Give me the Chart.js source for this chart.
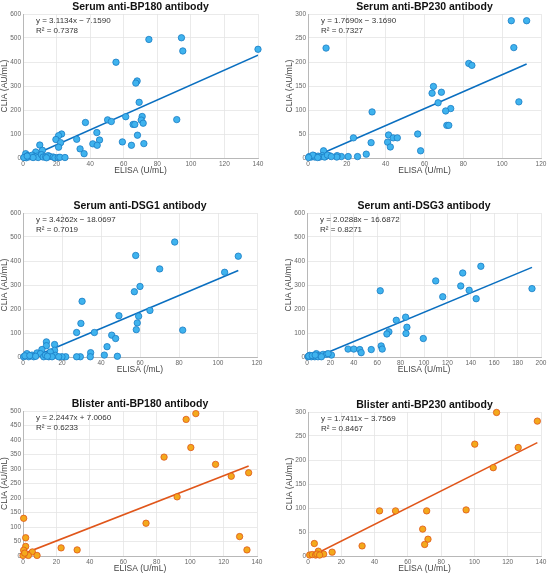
<!DOCTYPE html>
<html>
<head>
<meta charset="utf-8">
<title>CLIA vs ELISA</title>
<script src="https://cdn.jsdelivr.net/npm/chart.js@4.4.1/dist/chart.umd.min.js"></script>
<style>
  body { margin: 0; background: #fff; width: 550px; height: 575px; overflow: hidden; }
  .panel { position: absolute; }
</style>
</head>
<body>
<div class="panel" style="left:0;top:0;width:285px;height:190px"><canvas id="c1"></canvas></div>
<div class="panel" style="left:285px;top:0;width:265px;height:190px"><canvas id="c2"></canvas></div>
<div class="panel" style="left:0;top:190px;width:285px;height:195px"><canvas id="c3"></canvas></div>
<div class="panel" style="left:285px;top:190px;width:265px;height:195px"><canvas id="c4"></canvas></div>
<div class="panel" style="left:0;top:385px;width:285px;height:190px"><canvas id="c5"></canvas></div>
<div class="panel" style="left:285px;top:385px;width:265px;height:190px"><canvas id="c6"></canvas></div>
<script>
// Serum anti-BP180 (ELISA U/mL, CLIA AU/mL)
const serumBP180X = [140, 94.4, 95.2, 75, 55.4, 68, 67.2, 69.2, 91.6, 71, 70.4, 71.6, 65.6, 66.6, 61.2, 50.4, 52.6, 37.2, 68.2, 72, 59.2, 64.6, 44, 45.6, 41.6, 44.2, 32, 34, 36.4, 23, 21.2, 19.6, 22.4, 21.2, 10, 11.6, 7.6,
  1.6, 3, 1, 4, 5.5, 7, 8.5, 9, 11, 12, 13.5, 15, 16, 18, 19, 21, 22, 25, 2, 6, 0.5, 2.5, 14];
const serumBP180Y = [453, 501, 446, 494, 399, 321, 312, 232, 160, 173, 158, 145, 140, 140, 172, 159, 152, 148, 95, 60, 67, 53, 106, 75, 59, 53, 78, 38, 18, 100, 93, 77, 64, 45, 54, 32, 25,
  18, 10, 3, 5, 12, 5, 8, 2, 14, 4, 5, 10, 6, 4, 1, 2, 3, 2, 1, 2, 2, 8, 1];

// Serum anti-BP230
const serumBP230X = [104.7, 112.6, 106, 9.3, 82.8, 84.4, 64.6, 63.9, 68.7, 67, 108.6, 73.5, 70.9, 33, 71.5, 72.5, 56.5, 41.5, 43.9, 46, 23.4, 41, 42.4, 32.5, 58, 30, 8,
  25.5, 20.7, 17.2, 15, 14.8, 11, 9, 7.4, 5.2, 3, 1.7, 0.7, 3.5, 6, 8.5, 10, 2.5, 12, 5, 0.3];
const serumBP230Y = [286, 286, 230, 229, 197, 193, 149, 135, 137, 115, 117, 103, 98, 96, 68, 68, 50, 48, 42, 42, 42, 33, 23, 32, 15, 8, 15,
  3, 3, 3, 5, 2, 5, 3, 5, 4, 5, 2, 3, 2, 2, 2, 6, 6, 3, 1, 1];

// Serum anti-DSG1
const serumDSG1X = [110.4, 77.8, 57.8, 70.1, 103.4, 60, 57.1, 30.3, 65.1, 49.2, 59.3, 58.6, 58.1, 81.9, 29.7, 27.5, 36.6, 45.5, 47.5, 43.1, 41.7, 34.7, 34.5, 48.4, 29.4, 27.5, 21.9, 20,
  12, 12, 16.2, 16.2, 9.7, 7.2, 2, 4.6, 8.9, 14, 16.6, 18.3, 0.3, 2.9, 5.5, 10.6, 13.2, 14.9, 1, 3.5, 6.5, 11.5, 12.5];
const serumDSG1Y = [420, 479, 423, 367, 353, 294, 272, 232, 194, 172, 170, 142, 114, 112, 140, 102, 102, 91, 77, 43, 8, 18, 1, 3, 1, 1, 1, 1,
  63, 47, 52, 28, 31, 17, 14, 8, 14, 21, 7, 1, 1, 1, 1, 1, 1, 1, 5, 6, 3, 8, 3];

// Serum anti-DSG3
const serumDSG3X = [148.6, 133.1, 110, 131.4, 138.6, 192.3, 62.6, 116, 144.6, 84.3, 76.3, 85.4, 70, 68.3, 84.6, 99.4, 63.4, 64.3, 54.9, 35.1, 40, 45.1, 46.3, 20.9,
  8, 2.3, 5.1, 10.9, 13.7, 16.6, 18, 0.9, 3.7, 6.6, 9.4, 12.3, 1.5, 4.5, 7];
const serumDSG3Y = [378, 350, 317, 296, 278, 285, 276, 251, 243, 166, 153, 124, 105, 96, 98, 77, 46, 33, 31, 33, 33, 31, 18, 8,
  14, 7, 3, 7, 11, 11, 14, 1, 1, 1, 1, 1, 4, 6, 8];

// Blister anti-BP180
const blisterBP180X = [103.4, 97.6, 100.4, 84.4, 115.2, 124.6, 135, 92.2, 73.6, 129.6, 134, 22.8, 32.4, 0.4, 1.6, 1.6, 0.4, 5.6, 3.2, 8.4, 0, 1];
const blisterBP180Y = [491, 471, 374, 341, 316, 275, 287, 204, 113, 67, 21, 28, 21, 130, 63, 33, 20, 14, 2, 2, 2, 10];

// Blister anti-BP230
const blisterBP230X = [113.3, 137.8, 100.2, 126.3, 111.3, 95, 71.3, 52.6, 43, 68.9, 72.1, 70.1, 32.5, 3.8, 14.5, 6.2, 9.4, 1, 2.6, 4.6, 5.4, 7];
const blisterBP230Y = [299, 281, 233, 226, 184, 96, 94, 94, 94, 56, 35, 24, 21, 26, 8, 10, 4, 2, 3, 2, 4, 2];

// Linear fits as printed on each panel
const fitSlopes = [3.1134, 1.7690, 3.4262, 2.0288, 2.2447, 1.7411];
const fitIntercepts = [-7.1590, -3.1690, -18.0697, -16.6872, 7.0060, -3.7569];
const fitR2 = [0.7378, 0.7327, 0.7019, 0.8271, 0.6233, 0.8467];

const titles = ["Serum anti-BP180 antibody", "Serum anti-BP230 antibody", "Serum anti-DSG1 antibody",
  "Serum anti-DSG3 antibody", "Blister anti-BP180 antibody", "Blister anti-BP230 antibody"];
const xLabels = ["ELISA (U/mL)", "ELISA (U/mL)", "ELISA (/mL)", "ELISA (U/mL)", "ELISA (U/mL)", "ELISA (U/mL)"];
const yLabel = "CLIA (AU/mL)";
const xMax = [140, 120, 120, 200, 140, 140];
const yMax = [600, 300, 600, 600, 500, 300];
const yStep = [100, 50, 100, 100, 50, 50];

const BLUE = { fill: "#3fb3ee", edge: "#1a7cc4", line: "#0a6fc0" };
const ORANGE = { fill: "#f3a91c", edge: "#e0561a", line: "#e0561a" };
const FONT = "'Liberation Sans', Arial, sans-serif";

// plot area spacing inside each panel: [top, right, y axis width, x axis height]
const frames = [
  [14, 27, 23, 32],
  [14, 9, 23, 32],
  [23, 28, 23, 28],
  [23, 9, 22, 28],
  [26, 28, 23, 19],
  [27, 9, 23, 19],
];

// Draws title, axis labels and the fit equation
const panelText = {
  id: "panelText",
  afterDraw(chart, args, opts) {
    const ctx = chart.ctx;
    const a = chart.chartArea;
    ctx.save();
    ctx.textBaseline = "middle";

    ctx.fillStyle = "#111";
    ctx.font = "bold 10.5px " + FONT;
    ctx.textAlign = "center";
    ctx.fillText(opts.title, (a.left + a.right) / 2, a.top - 7);

    ctx.fillStyle = "#444";
    ctx.font = "8.5px " + FONT;
    ctx.fillText(opts.xLabel, (a.left + a.right) / 2, a.bottom + 13);

    ctx.save();
    ctx.translate(a.left - 18, (a.top + a.bottom) / 2);
    ctx.rotate(-Math.PI / 2);
    ctx.fillText(yLabel, 0, 0);
    ctx.restore();

    ctx.fillStyle = "#333";
    ctx.font = "8px " + FONT;
    ctx.textAlign = "left";
    ctx.fillText(opts.eq, a.left + 13, a.top + 7);
    ctx.fillText(opts.r2, a.left + 13, a.top + 17);
    ctx.restore();
  },
};

function makePanel(i, xs, ys, colors) {
  const points = xs.map((x, k) => ({ x: x, y: ys[k] }));
  const x0 = Math.min(...xs);
  const x1 = Math.max(...xs);
  const m = fitSlopes[i];
  const b = fitIntercepts[i];
  const fitLine = [{ x: x0, y: m * x0 + b }, { x: x1, y: m * x1 + b }];
  const eq = "y = " + m.toFixed(4) + "x " + (b < 0 ? "− " : "+ ") + Math.abs(b).toFixed(4);
  const f = frames[i];

  new Chart(document.getElementById("c" + (i + 1)), {
    type: "scatter",
    data: {
      datasets: [
        {
          data: points,
          backgroundColor: colors.fill,
          borderColor: colors.edge,
          borderWidth: 0.8,
          pointRadius: 3.2,
          clip: false,
          order: 0,
        },
        {
          type: "line",
          data: fitLine,
          borderColor: colors.line,
          borderWidth: 1.6,
          pointRadius: 0,
          fill: false,
          order: 1,
        },
      ],
    },
    options: {
      responsive: true,
      maintainAspectRatio: false,
      animation: false,
      events: [],
      layout: { padding: { top: f[0], right: f[1], left: 0, bottom: 0 } },
      plugins: {
        legend: { display: false },
        tooltip: { enabled: false },
        panelText: { title: titles[i], xLabel: xLabels[i], eq: eq, r2: "R² = " + fitR2[i].toFixed(4) },
      },
      scales: {
        x: {
          type: "linear",
          min: 0,
          max: xMax[i],
          afterFit: (s) => { s.height = f[3]; },
          ticks: { stepSize: 20, autoSkip: false, maxRotation: 0, padding: 2, color: "#666",
            font: { size: 6.5, family: FONT } },
          grid: { color: "#e4e4e4", drawTicks: false, lineWidth: 0.8 },
          border: { color: "#b8b8b8" },
        },
        y: {
          min: 0,
          max: yMax[i],
          afterFit: (s) => { s.width = f[2]; },
          ticks: { stepSize: yStep[i], autoSkip: false, padding: 2, color: "#666",
            font: { size: 6.5, family: FONT } },
          grid: { color: "#e4e4e4", drawTicks: false, lineWidth: 0.8 },
          border: { color: "#b8b8b8" },
        },
      },
    },
    plugins: [panelText],
  });
}

makePanel(0, serumBP180X, serumBP180Y, BLUE);
makePanel(1, serumBP230X, serumBP230Y, BLUE);
makePanel(2, serumDSG1X, serumDSG1Y, BLUE);
makePanel(3, serumDSG3X, serumDSG3Y, BLUE);
makePanel(4, blisterBP180X, blisterBP180Y, ORANGE);
makePanel(5, blisterBP230X, blisterBP230Y, ORANGE);
</script>
</body>
</html>
